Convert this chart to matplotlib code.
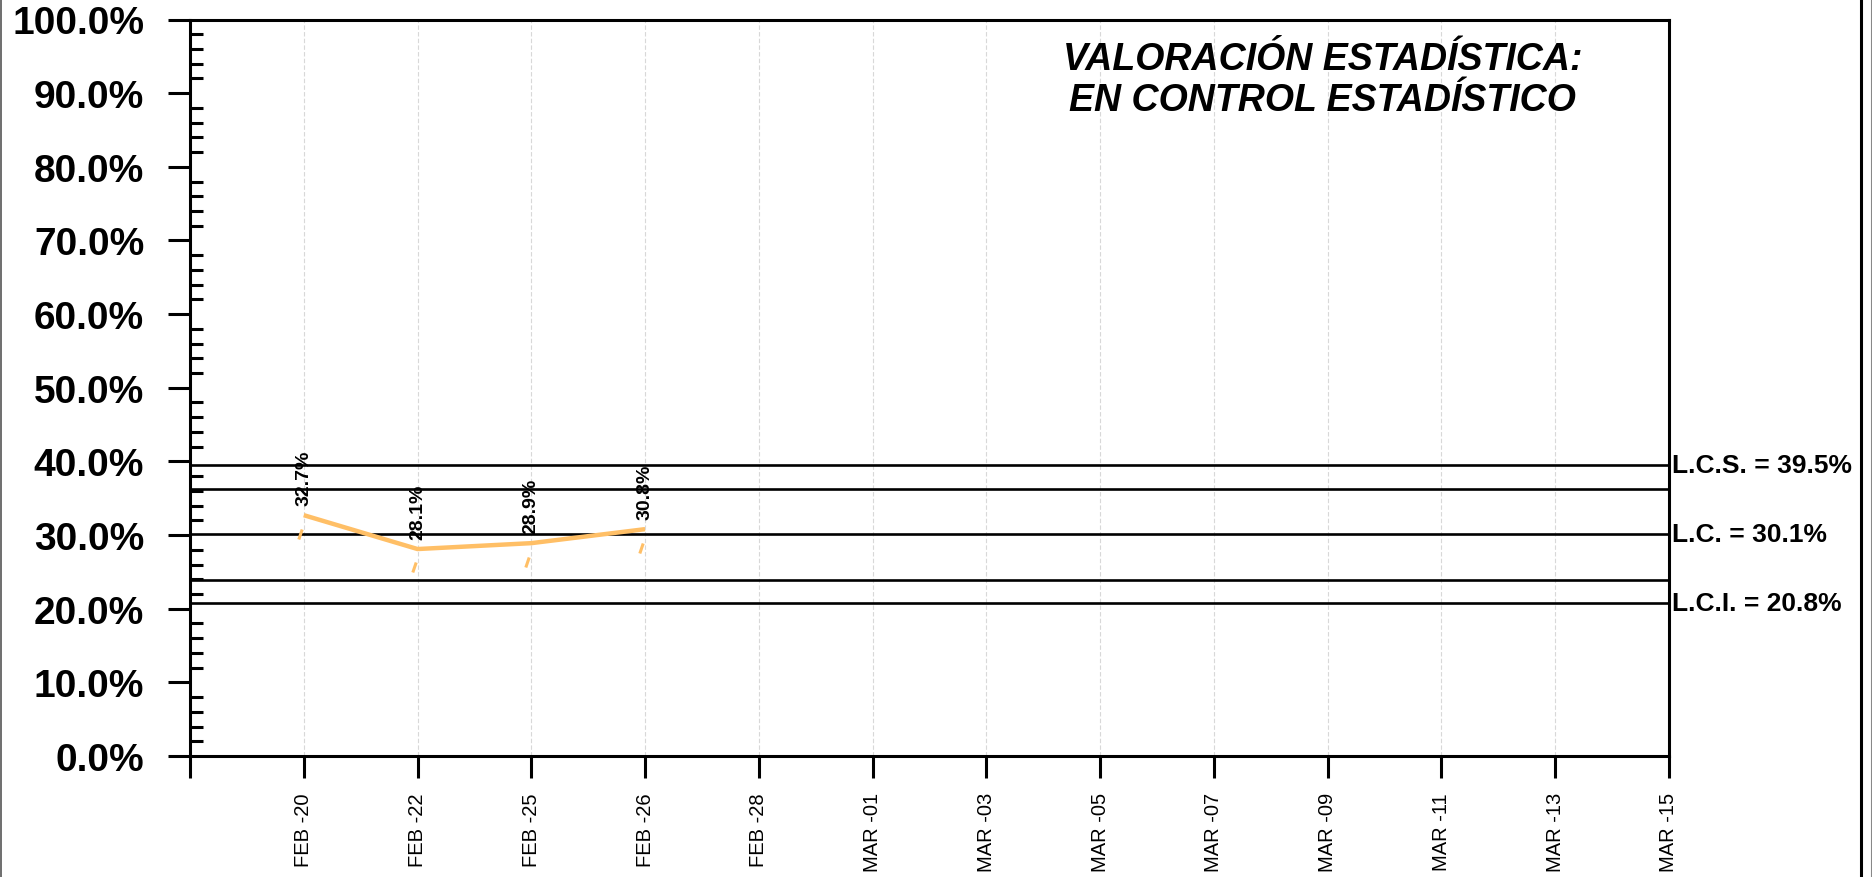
import numpy as np
import matplotlib
matplotlib.use("Agg")
import matplotlib.pyplot as plt
from matplotlib.lines import Line2D
from matplotlib.ticker import MultipleLocator, FuncFormatter

plt.rcParams['font.family'] = ['Liberation Sans', 'DejaVu Sans']

# data
fechas = ['FEB -20', 'FEB -22', 'FEB -25', 'FEB -26', 'FEB -28', 'MAR -01', 'MAR -03',
          'MAR -05', 'MAR -07', 'MAR -09', 'MAR -11', 'MAR -13', 'MAR -15']
valores = [32.7, 28.1, 28.9, 30.8]
marcas = [30.2, 25.6, 26.4, 28.3]   # small orange dashes under each point
lcs = 39.5
lc = 30.1
lci = 20.8
sup_2s = 36.3
inf_2s = 23.9
titulo = 'VALORACIÓN ESTADÍSTICA:\nEN CONTROL ESTADÍSTICO'

naranja = '#FFBF66'

fig = plt.figure(figsize=(18.72, 8.78), dpi=100)
ax = fig.add_axes([190 / 1872, 1 - 757 / 878, (1669 - 190) / 1872, (757 - 20.5) / 878])

x = np.arange(1, len(fechas) + 1)
xv = x[:len(valores)]

# control limits
for v in [lcs, sup_2s, lc, inf_2s, lci]:
    ax.axhline(v, color='black', lw=1.9, zorder=2)

ax.plot(xv, valores, color=naranja, lw=3.2, zorder=3, solid_capstyle='butt')

dash = [(-1.14, -1.0), (-0.46, 1.0)]
ax.plot(xv, marcas, ls='none', marker=dash, markersize=8.2, markeredgewidth=2.2,
        markeredgecolor=naranja, zorder=3)

for xi, v in zip(xv, valores):
    ax.annotate(f'{v:.1f}%', (xi, v), xytext=(0, 7), textcoords='offset points',
                rotation=90, ha='center', va='bottom', fontsize=14, fontweight='bold', zorder=4)

for v, name in [(lcs, 'L.C.S.'), (lc, 'L.C.'), (lci, 'L.C.I.')]:
    ax.text(1.002, v, f'{name} = {v:.1f}%', transform=ax.get_yaxis_transform(),
            ha='left', va='center', fontsize=19, fontweight='bold', clip_on=False)

ax.text(0.766, 0.8765, titulo, transform=ax.transAxes, ha='center', va='baseline',
        multialignment='center', fontsize=27, fontweight='bold', fontstyle='italic')

ax.set_xlim(0, len(fechas))
ax.set_ylim(0, 100)
ax.set_xticks(np.arange(0, len(fechas) + 1))
ax.set_xticklabels([''] + fechas)
ax.yaxis.set_major_locator(MultipleLocator(10))
ax.yaxis.set_minor_locator(MultipleLocator(2))
ax.yaxis.set_major_formatter(FuncFormatter(lambda v, p: f'{v:.1f}%'))

ax.tick_params(axis='y', which='major', direction='out', length=16, width=2.2, pad=17,
               labelsize=28)
ax.tick_params(axis='y', which='minor', direction='in', length=9.5, width=2.2)
ax.tick_params(axis='x', which='major', direction='out', length=16, width=2.2, pad=10,
               labelsize=14.5, labelrotation=90)
for lab in ax.get_yticklabels():
    lab.set_fontweight('bold')

ax.grid(axis='x', color='#d8d8d8', ls=(0, (4, 2)), lw=0.8)
ax.set_axisbelow(True)

for s in ax.spines.values():
    s.set_linewidth(2.2)

# outer frame lines
fig.add_artist(Line2D([0.5 / 1872, 0.5 / 1872], [0, 1], transform=fig.transFigure, color='#555555', lw=1.2))
fig.add_artist(Line2D([1861 / 1872, 1861 / 1872], [0, 1], transform=fig.transFigure, color='black', lw=2.2))
fig.add_artist(Line2D([1871 / 1872, 1871 / 1872], [0, 1], transform=fig.transFigure, color='#888888', lw=0.8))

fig.savefig('out.png', dpi=100)
